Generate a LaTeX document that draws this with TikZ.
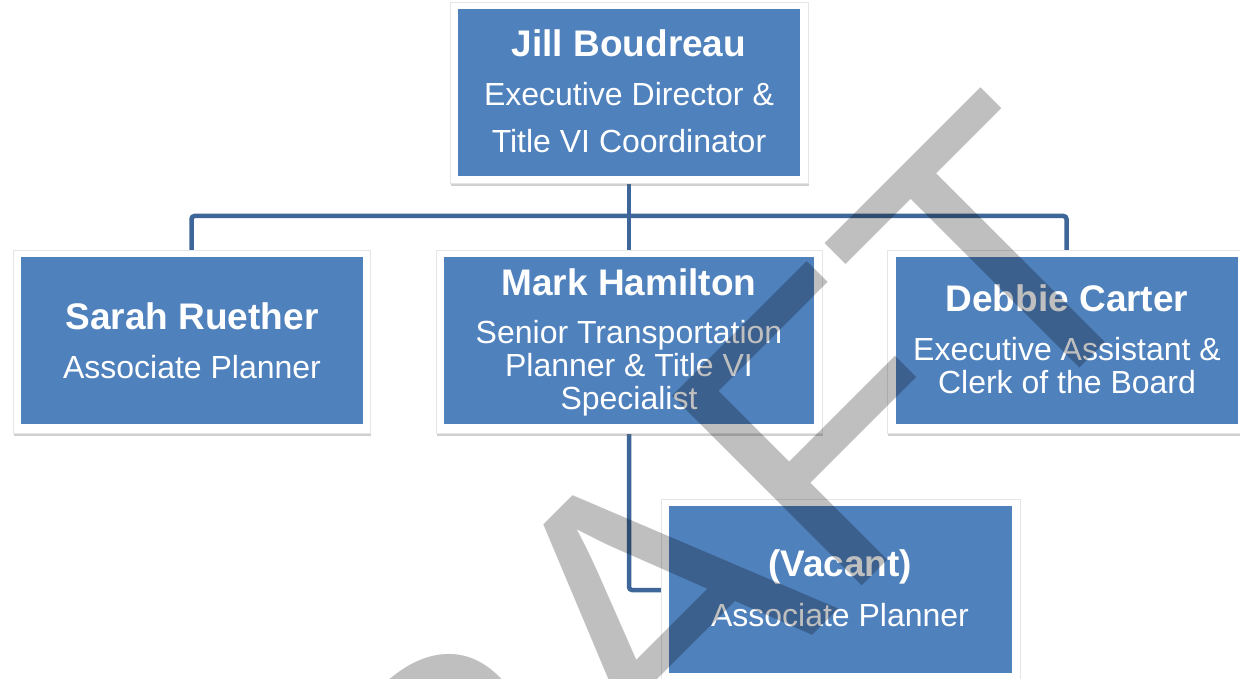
\documentclass[tikz,border=0pt]{standalone}
\usepackage{fontspec}
\setmainfont{Liberation Sans}
\usetikzlibrary{shadows}
\definecolor{boxblue}{HTML}{4F81BD}
\definecolor{linkblue}{HTML}{3E6698}
\begin{document}
\begin{tikzpicture}[x=1pt,y=-1pt,
  frame/.style={draw=black!10, line width=0.8pt, fill=white, inner sep=0pt,
    drop shadow={shadow xshift=1pt, shadow yshift=-3pt, opacity=0.3, fill=black!60}},
  card/.style={fill=boxblue, draw=none, inner sep=0pt, minimum height=167pt},
  nm/.style={anchor=base, text=white, font=\fontsize{37}{40}\selectfont\bfseries, inner sep=0pt},
  ln/.style={anchor=base, text=white, font=\fontsize{32}{34}\selectfont, inner sep=0pt},
  link/.style={draw=linkblue, line width=4.5pt, rounded corners=3pt},
  wm/.style={anchor=base, inner sep=0pt, text=black, text opacity=0.25, rotate=45,
    font=\fontsize{390}{390}\selectfont},
]
\useasboundingbox (0,0) rectangle (1240,679);
\fill[white] (0,0) rectangle (1240,679);

% box centres
\coordinate (jillc) at (629,92.5);
\coordinate (sarahc) at (191.5,341.5);
\coordinate (markc) at (629,341.5);
\coordinate (debbiec) at (1066.5,341.5);
\coordinate (vacantc) at (840.5,590);

% frame outlines used as connector ends
\path (jillc) node[minimum width=358pt, minimum height=181pt, inner sep=0pt] (jillf) {};
\path (sarahc) node[minimum width=357pt, minimum height=183pt, inner sep=0pt] (sarahf) {};
\path (markc) node[minimum width=386pt, minimum height=183pt, inner sep=0pt] (markf) {};
\path (debbiec) node[minimum width=359pt, minimum height=183pt, inner sep=0pt] (debbief) {};
\path (vacantc) node[minimum width=359pt, minimum height=182pt, inner sep=0pt] (vacantf) {};

% connectors
\coordinate (bus) at (629,216);
\draw[link] (jillf.south) -- (bus);
\draw[link] (sarahf.north) |- (bus) -| (debbief.north);
\draw[link] (bus) -- (markf.north);
\draw[link] (markf.south) |- (vacantf.west);

% white frames
\node[frame, minimum width=358pt, minimum height=181pt] (jillw) at (jillc) {};
\node[frame, minimum width=357pt, minimum height=183pt] (sarahw) at (sarahc) {};
\node[frame, minimum width=386pt, minimum height=183pt] (markw) at (markc) {};
\node[frame, minimum width=359pt, minimum height=183pt] (debbiew) at (debbiec) {};
\node[frame, minimum width=359pt, minimum height=182pt] (vacantw) at (vacantc) {};

% blue cards
\node[card, minimum width=342pt] (jill) at (629,92.5) {};
\node[card, minimum width=342pt] (sarah) at (192,340.5) {};
\node[card, minimum width=370pt] (mark) at (629,340.5) {};
\node[card, minimum width=342pt] (debbie) at (1067,340.5) {};
\node[card, minimum width=343pt] (vacant) at (840.5,589.5) {};

% texts
\node[nm] (t1) at (629,57) {Jill Boudreau};
\node[ln] (t2) at (629,106) {Executive Director \&};
\node[ln] (t3) at (629,153) {Title VI Coordinator};
\node[nm] (t4) at (192,329) {Sarah Ruether};
\node[ln] (t5) at (192,378) {Associate Planner};
\node[nm] (t6) at (629,295) {Mark Hamilton};
\node[ln] (t7) at (629,343) {Senior Transportation};
\node[ln] (t8) at (629,376) {Planner \& Title VI};
\node[ln] (t9) at (629,409) {Specialist};
\node[nm] (t10) at (1067,312) {Debbie Carter};
\node[ln] (t11) at (1067,360) {Executive Assistant \&};
\node[ln] (t12) at (1067,393) {Clerk of the Board};
\node[nm] (t13) at (840,576) {(Vacant)};
\node[ln] (t14) at (840,626) {Associate Planner};

% watermark
\node[wm] (draft) at (717,731) {DRAFT};
\end{tikzpicture}
\end{document}
